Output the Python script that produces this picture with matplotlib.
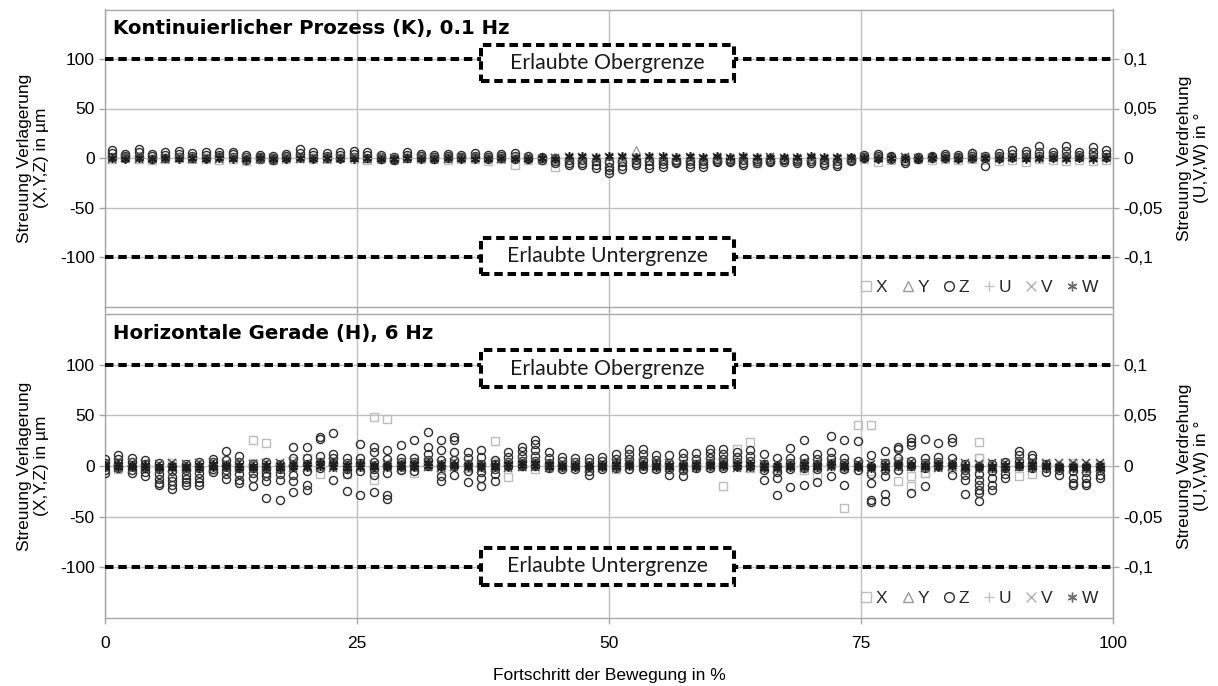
import numpy as np
import matplotlib
matplotlib.use("Agg")
import matplotlib.pyplot as plt
from matplotlib.lines import Line2D
from matplotlib.patches import Rectangle
from matplotlib.ticker import FuncFormatter

plt.rcParams['font.family'] = ['Liberation Sans', 'DejaVu Sans']
plt.rcParams['axes.unicode_minus'] = False

# ---------------- data ----------------
TITLES = ["Kontinuierlicher Prozess (K), 0.1 Hz", "Horizontale Gerade (H), 6 Hz"]
X_TICKS = [0, 25, 50, 75, 100]
Y_TICKS = [-100, -50, 0, 50, 100]
Y2_TICKS = [-0.1, -0.05, 0, 0.05, 0.1]
LIMITS = [100, -100]
LIMIT_LABELS = ["Erlaubte Obergrenze", "Erlaubte Untergrenze"]
SERIES = ["X", "Y", "Z", "U", "V", "W"]
N_POS = 75
pos_K = (np.arange(N_POS) + 0.5) * 100 / N_POS
pos_H = np.arange(N_POS) * 100 / N_POS

# ---- panel K (µm) ----
Z_K = [[8, 5, 1], [4, 2, 0], [9, 6, 1], [4, 2, -1], [6, 3, 0], [7, 4, 1], [5, 2, 0],
       [6, 3, 0], [6, 3, 1], [6, 4, 1], [3, 1, -2], [3, 1, -1], [2, 0, -2], [4, 2, 0],
       [9, 5, 1], [6, 3, 0], [5, 2, 0], [6, 3, 0], [7, 4, 1], [6, 3, 0], [3, 1, -1],
       [1, -1, -2], [6, 3, 0], [4, 2, 0], [3, 1, -1], [4, 2, 0], [3, 1, 0], [5, 2, 0],
       [3, 1, -1], [4, 2, 0], [5, 2, -1], [2, 0, -1], [1, 0, -2], [0, -3, -5],
       [-2, -5, -7], [-2, -5, -7], [-3, -7, -10], [-4, -9, -12, -15], [-4, -8, -11],
       [-2, -5, -7], [-3, -7, -10], [-3, -6, -9], [-2, -4, -5], [-3, -6, -9],
       [-3, -6, -9], [-1, -3, -4], [-1, -3, -4], [-2, -5, -7], [-1, -3, -5],
       [-1, -3, -4], [-1, -2, -4], [-1, -3, -5], [-1, -3, -5], [-2, -5, -7],
       [-3, -6, -8], [0, -2, -3], [3, 1, 0], [4, 2, 0], [2, 1, -1], [0, -3, -5],
       [1, 0, -1], [2, 1, 0], [4, 2, 0], [3, 1, 0], [5, 2, 0], [2, 0, -8], [5, 2, 0],
       [8, 4, 1], [7, 4, 1], [12, 6, 2], [6, 3, 1], [12, 7, 2], [6, 3, 1], [11, 6, 2],
       [8, 4, 1]]
X_K = [-1, 0, -1, -2, -1, 0, -1, -1, -2, -1, -3, -1, -2, -1, 0,
       -1, -1, 0, -1, -2, -1, -2, 0, -1, -1, -2, -1, -1, -3, -1,
       -7, -2, -2, -9, -2, -1, -3, -3, -2, -1, -2, -1, -2, -1, -2,
       -1, -2, -1, -5, -2, -1, -2, -1, -2, -1, -2, -1, -4, -2, -1,
       -1, -2, -1, -2, -1, -2, -3, -2, -4, -1, -2, -3, -2, -3, -2]
Y_K = [1, 2, 1, 0, 1, 2, 1, 1, 2, 1, 0, 1, 1, 2, 1,
       1, 2, 1, 1, 0, 1, 0, 2, 1, 1, 2, 1, 2, 1, 1,
       1, 2, 0, 1, 1, 0, 1, 2, 1, 8, 1, 0, 1, 1, 0,
       1, 0, 1, 0, 1, 1, 0, 1, 0, 1, 1, 2, 1, 0, 1,
       1, 2, 1, 1, 6, 1, 2, 1, 2, 1, 1, 2, 1, 2, 1]
# ---- panel K (°) ----
U_K = [0.001, 0.000, 0.001, 0.000, -0.001, 0.001, 0.000, 0.001, 0.000, 0.000, 0.001, -0.001, 0.000, 0.001, 0.000,
       0.001, 0.000, 0.000, 0.001, 0.000, 0.001, -0.001, 0.000, 0.001, 0.000, 0.001, 0.000, -0.001, 0.000, 0.001,
       0.000, 0.001, 0.000, 0.000, 0.001, 0.000, -0.001, 0.001, 0.000, 0.001, 0.000, 0.000, 0.001, 0.000, -0.001,
       0.000, 0.001, 0.000, 0.001, 0.000, 0.000, 0.001, -0.001, 0.000, 0.001, 0.000, 0.001, 0.000, 0.000, 0.001,
       0.000, -0.001, 0.001, 0.000, 0.001, 0.000, 0.000, 0.001, 0.000, -0.001, 0.001, 0.000, 0.001, 0.000, 0.000]
V_K = [-0.001, 0.000, -0.001, 0.000, -0.001, 0.000, -0.001, 0.000, -0.001, 0.000, 0.000, -0.001, 0.000, 0.000, -0.001,
       0.000, -0.001, 0.000, 0.000, -0.001, 0.000, 0.000, -0.001, 0.000, 0.000, -0.001, 0.000, 0.000, 0.000, -0.001,
       0.000, 0.000, -0.001, 0.000, 0.001, 0.001, 0.000, 0.001, 0.001, 0.000, 0.001, 0.001, 0.000, 0.001, 0.000,
       0.001, 0.000, 0.001, 0.000, 0.001, 0.000, 0.000, 0.001, 0.000, 0.000, 0.000, 0.001, 0.000, 0.000, 0.001,
       0.000, 0.000, 0.001, 0.000, 0.000, 0.001, 0.000, 0.001, 0.000, 0.000, 0.001, 0.000, 0.001, 0.000, 0.001]
W_K = [0.000, -0.001, 0.000, -0.001, 0.000, -0.001, 0.000, -0.001, 0.000, -0.001, -0.001, 0.000, -0.001, -0.001, 0.000,
       -0.001, 0.000, -0.001, -0.001, 0.000, -0.001, -0.001, 0.000, -0.001, -0.001, 0.000, -0.001, -0.001, -0.001, 0.000,
       -0.001, -0.001, 0.000, -0.001, 0.002, 0.002, 0.001, 0.002, 0.002, 0.001, 0.002, 0.002, 0.001, 0.002, 0.001,
       0.002, 0.001, 0.002, 0.001, 0.001, 0.001, 0.001, 0.002, 0.001, 0.001, 0.001, 0.000, -0.001, 0.000, 0.000,
       -0.001, 0.000, 0.000, -0.001, 0.000, 0.000, -0.001, 0.000, -0.001, 0.000, 0.000, -0.001, 0.000, -0.001, 0.000]

# ---- panel H (µm) ----
Z_H = [[7, 3, 0, -4, -7], [11, 7, 3, 0, -2], [8, 4, 0, -4, -7], [6, 2, -2, -6, -10],
       [3, -3, -8, -13, -17, -19], [0, -5, -11, -15, -19, -23], [2, -4, -9, -13, -16, -19],
       [4, -2, -7, -12, -16, -19], [7, 4, 0, -3, -6], [15, 6, 1, -4, -8, -13],
       [10, 4, -2, -8, -14, -17], [2, -2, -7, -12, -20], [4, -2, -7, -10, -15, -32],
       [2, -3, -8, -14, -34], [19, 8, 0, -9, -15, -26], [19, 8, 2, -5, -19, -24],
       [29, 27, 10, 4, -2], [33, 12, 8, 3, -14], [8, 3, -3, -8, -25], [22, 8, 3, -5, -29],
       [19, 14, 4, -3, -9, -26], [16, 7, 0, -7, -29, -33], [21, 8, 4, 0, -4],
       [26, 8, 4, 0, -5], [34, 19, 12, 6, 0], [26, 16, 6, 0, -10, -15],
       [29, 26, 14, 6, 0, -9], [14, 8, 2, -5, -16], [16, 9, 2, -6, -12, -20],
       [6, 2, -3, -8, -15], [14, 9, 4, 0], [19, 15, 10, 5, 0], [26, 22, 16, 10, 5, 0],
       [14, 8, 3, -2], [9, 5, 1, -3], [8, 4, 0, -3], [8, 4, 0, -5, -9], [9, 5, 1, -3],
       [12, 7, 3, -2], [17, 12, 7, 2, -3], [17, 12, 6, 1, -3], [11, 6, 2, -3],
       [11, 3, -3, -9], [13, 8, 2, -4, -10], [13, 7, 2, -2], [17, 13, 8, 3, -2],
       [17, 12, 7, 2, -2], [14, 9, 4, 0], [16, 10, 5, 0], [12, 2, -4, -14],
       [8, 0, -6, -12, -29], [18, 8, 3, -3, -21], [26, 8, 3, -2, -19], [12, 7, 2, -3, -16],
       [30, 14, 8, 2, -10], [26, 8, 3, -3, -19], [25, 5, 0, -4],
       [11, 0, -8, -17, -34, -36], [15, 3, -4, -10, -28, -35], [19, 17, 8, 2, -4],
       [28, 24, 21, 5, 0, -27], [27, 8, 3, -2, -20], [23, 9, 4, 0], [28, 24, 8, 2, -9],
       [2, -4, -9, -14, -28], [0, -8, -14, -19, -24, -27, -35], [2, -5, -12, -19, -24],
       [4, -2, -8, -12], [15, 11, 5, 0], [11, 8, 3, -2], [2, -2, -6], [0, -4, -9],
       [0, -5, -12, -17, -19], [0, -6, -12, -17, -19], [0, -4, -9, -12]]
X_H = [2, -3, 1, -2, 0, 3, -1, 2, -4, 1, -2, 3, -3, 0, 5,
       8, -8, 2, -8, 3, -2, 1, -3, -7, 2, -4, 3, -2, 1, 4,
       -11, 2, -3, 1, -1, 2, -2, 1, -3, 2, 4, -2, 1, -3, 2,
       -1, 3, 6, -2, 1, -3, 2, -4, -9, 3, -2, 1, -5, 2, 5,
       -10, -7, 2, -3, 1, 8, -2, 3, -10, -8, 2, -1, 3, -2, 1]
X_H_OUT_IDX = [11, 12, 20, 20, 21, 29, 46, 47, 48, 55, 56, 57, 59, 60, 61, 65, 65]
X_H_OUT_VAL = [26, 23, 48, -14, 46, 25, -20, 17, 24, -41, 40, 40, -15, -20, -7, 24, 8]
Y_H = [1, 0, 2, 1, 0, 1, -1, 0, 2, 1, 0, 1, 2, 0, 1,
       0, 1, 2, 0, 1, 1, 0, 2, 1, 0, 1, 2, 1, 0, 1,
       2, 0, 1, 1, 0, 2, 1, 0, 1, 2, 0, 1, 1, 0, 2,
       1, 0, 1, 2, 0, 1, 1, 0, 2, 1, 0, 1, 2, 1, 0,
       1, 2, 0, 1, 1, 0, 2, 1, 0, 1, 2, 0, 1, 1, 0]
# ---- panel H (°) ----
U_H = [0.002, 0.001, 0.002, 0.000, 0.001, 0.002, 0.001, 0.000, 0.002, 0.001, 0.002, 0.001, 0.000, 0.002, 0.001,
       0.002, 0.000, 0.001, 0.002, 0.001, 0.000, 0.002, 0.001, 0.002, 0.000, 0.001, 0.002, 0.001, 0.002, 0.000,
       0.001, 0.002, 0.001, 0.000, 0.002, 0.001, 0.002, 0.000, 0.001, 0.002, 0.001, 0.000, 0.002, 0.001, 0.002,
       0.000, 0.001, 0.002, 0.001, 0.000, 0.002, 0.001, 0.002, 0.000, 0.001, 0.002, 0.001, 0.002, 0.000, 0.001,
       0.002, 0.001, 0.000, 0.002, 0.001, 0.002, 0.000, 0.001, 0.002, 0.001, 0.000, 0.002, 0.001, 0.002, 0.001]
V_H_A = [0.003, 0.004, 0.003, 0.003, 0.002, 0.003, 0.002, 0.003, 0.004, 0.003, 0.003, 0.002, 0.003, 0.003, 0.004,
         0.003, 0.004, 0.004, 0.003, 0.003, 0.002, 0.003, 0.003, 0.004, 0.004, 0.003, 0.004, 0.003, 0.002, 0.003,
         0.003, 0.004, 0.004, 0.003, 0.003, 0.003, 0.002, 0.003, 0.003, 0.004, 0.004, 0.003, 0.003, 0.003, 0.003,
         0.004, 0.004, 0.003, 0.003, 0.002, 0.003, 0.003, 0.004, 0.003, 0.004, 0.003, 0.003, 0.002, 0.003, 0.004,
         0.004, 0.003, 0.003, 0.004, 0.003, 0.002, 0.003, 0.003, 0.004, 0.003, 0.003, 0.003, 0.003, 0.003, 0.003]
V_H_B = [-0.002, -0.002, -0.003, -0.002, -0.003, -0.002, -0.003, -0.002, -0.002, -0.003, -0.002, -0.003, -0.002, -0.003, -0.002,
         -0.002, -0.001, -0.002, -0.003, -0.002, -0.003, -0.002, -0.002, -0.002, -0.001, -0.002, -0.001, -0.002, -0.003, -0.002,
         -0.002, -0.001, -0.001, -0.002, -0.002, -0.002, -0.003, -0.002, -0.002, -0.001, -0.001, -0.002, -0.002, -0.002, -0.002,
         -0.001, -0.001, -0.002, -0.002, -0.003, -0.003, -0.002, -0.002, -0.002, -0.001, -0.002, -0.002, -0.003, -0.002, -0.001,
         -0.001, -0.002, -0.002, -0.001, -0.002, -0.003, -0.003, -0.002, -0.001, -0.002, -0.002, -0.002, -0.003, -0.003, -0.002]
W_H_A = [0.001, 0.002, 0.001, 0.001, 0.000, 0.001, 0.000, 0.001, 0.002, 0.001, 0.001, 0.000, 0.001, 0.001, 0.002,
         0.002, 0.003, 0.002, 0.001, 0.002, 0.001, 0.001, 0.002, 0.002, 0.003, 0.002, 0.002, 0.001, 0.001, 0.001,
         0.002, 0.003, 0.003, 0.002, 0.001, 0.001, 0.001, 0.001, 0.002, 0.002, 0.002, 0.001, 0.001, 0.001, 0.002,
         0.002, 0.002, 0.002, 0.002, 0.001, 0.001, 0.001, 0.002, 0.001, 0.003, 0.001, 0.001, 0.000, 0.001, 0.002,
         0.002, 0.001, 0.002, 0.002, 0.000, 0.000, 0.000, 0.001, 0.002, 0.002, 0.001, 0.000, 0.000, 0.000, 0.001]
W_H_B = [-0.001, -0.001, -0.001, -0.002, -0.002, -0.002, -0.002, -0.002, -0.001, -0.001, -0.002, -0.002, -0.002, -0.002, -0.001,
         -0.001, 0.000, -0.001, -0.002, -0.001, -0.001, -0.001, -0.001, -0.001, 0.000, -0.001, 0.000, -0.001, -0.001, -0.001,
         -0.001, 0.000, 0.000, -0.001, -0.001, -0.001, -0.001, -0.001, -0.001, 0.000, 0.000, -0.001, -0.001, -0.001, -0.001,
         0.000, 0.000, -0.001, -0.001, -0.002, -0.002, -0.001, -0.001, -0.001, 0.000, -0.001, -0.001, -0.002, -0.002, 0.000,
         0.000, -0.001, -0.001, 0.000, -0.002, -0.002, -0.002, -0.002, 0.000, -0.001, -0.001, -0.002, -0.002, -0.002, -0.002]

# ---------------- styles ----------------
STY = {
    "X": dict(marker="s", color="#bdbdbd", ms=5.2, mew=1.0),
    "Y": dict(marker="^", color="#9a9a9a", ms=5.2, mew=0.9),
    "Z": dict(marker="o", color="#2e2e2e", ms=5.8, mew=1.0),
    "U": dict(marker="+", color="#c4c4c4", ms=6.0, mew=1.0),
    "V": dict(marker="x", color="#555555", ms=5.2, mew=1.2),
    "W": dict(marker=(6, 2, 0), color="#1e1e1e", ms=6.2, mew=1.1),
}
LEG_COL = {"V": "#b0b0b0", "W": "#6a6a6a"}
GRID = "#bfbfbf"
SPINE = "#a6a6a6"
DASH = (0, (2.1, 1.2))
LW = 2.9


def mk(ax, x, y, key, z=3):
    s = STY[key]
    ax.plot(x, y, ls="none", marker=s["marker"], mfc="none", mec=s["color"],
            ms=s["ms"], mew=s["mew"], zorder=z)


def flat(pos, lists):
    xs, ys = [], []
    for p, vals in zip(pos, lists):
        for v in vals:
            xs.append(p)
            ys.append(v)
    return xs, ys


fig = plt.figure(figsize=(12.18, 6.86), dpi=100)
W_, H_ = 1218.0, 686.0
L, R = 105 / W_, 1113 / W_
ax_top = fig.add_axes([L, 1 - 306.5 / H_, R - L, (306.5 - 9.5) / H_])
ax_bot = fig.add_axes([L, 1 - 618 / H_, R - L, (618 - 314) / H_])

panels = [
    (ax_top, pos_K, Z_K, X_K, Y_K, [U_K], [V_K], [W_K], None),
    (ax_bot, pos_H, Z_H, X_H, Y_H, [U_H], [V_H_A, V_H_B], [W_H_A, W_H_B], (X_H_OUT_IDX, X_H_OUT_VAL)),
]

for k, (ax, pos, Z, X, Y, Us, Vs, Ws, out) in enumerate(panels):
    ax.set_xlim(0, 100)
    ax.set_ylim(-150, 150)
    ax.set_xticks(X_TICKS)
    ax.set_yticks(Y_TICKS)
    ax.set_axisbelow(True)
    ax.grid(True, color=GRID, lw=1.0)
    for sp in ax.spines.values():
        sp.set_color(SPINE)
        sp.set_linewidth(1.0)
    ax.tick_params(colors=SPINE, labelcolor="black", labelsize=12.5, length=4, width=1.0)
    ax.tick_params(axis="x", pad=9)
    if k == 0:
        ax.tick_params(axis="x", labelbottom=False)
    ax.set_ylabel("Streuung Verlagerung\n(X,Y,Z) in µm", fontsize=12.5, labelpad=8,
                  linespacing=1.15)

    # series on the left axis (µm)
    mk(ax, pos, X, "X")
    if out is not None:
        mk(ax, [pos[i] for i in out[0]], out[1], "X")
    mk(ax, pos, Y, "Y")
    zx, zy = flat(pos, Z)
    mk(ax, zx, zy, "Z", z=3.2)

    # limit lines + labelled dashed boxes
    for lim, lab in zip(LIMITS, LIMIT_LABELS):
        ax.axhline(lim, color="black", lw=LW, ls=DASH, zorder=4)
        yc = lim - 4 if lim > 0 else lim + 1
        ax.add_patch(Rectangle((37.3, yc - 18.5), 25.1, 37, facecolor="white",
                               edgecolor="black", lw=LW, ls=DASH, zorder=5))
        ax.text(49.85, yc, lab, ha="center", va="center", fontsize=15.3,
                family=["Lato", "DejaVu Sans"], color="#1a1a1a", zorder=6)

    ax.text(0.008, 0.968, TITLES[k], transform=ax.transAxes, ha="left", va="top",
            fontsize=14.2, fontweight="bold", family=["DejaVu Sans"], zorder=7)

    # right axis (°)
    axr = ax.twinx()
    axr.set_ylim(-0.15, 0.15)
    axr.set_yticks(Y2_TICKS)
    axr.yaxis.set_major_formatter(FuncFormatter(lambda v, p: ("%g" % v).replace(".", ",")))
    for sp in axr.spines.values():
        sp.set_visible(False)
    axr.tick_params(colors=SPINE, labelcolor="black", labelsize=12.5, length=4, width=1.0)
    axr.set_ylabel("Streuung Verdrehung\n(U,V,W) in °", fontsize=12.5, labelpad=10,
                   linespacing=1.15)
    for U in Us:
        mk(axr, pos, U, "U")
    for V in Vs:
        mk(axr, pos, V, "V")
    for Wv in Ws:
        mk(axr, pos, Wv, "W")

    handles = [Line2D([], [], ls="none", marker=STY[s]["marker"], mfc="none",
                      mec=LEG_COL.get(s, STY[s]["color"]), ms=7, mew=1.0) for s in SERIES]
    leg = axr.legend(handles, SERIES, loc="lower right", ncol=6, frameon=False,
                     fontsize=12.5, handlelength=0.8, handletextpad=0.15,
                     columnspacing=0.75, borderaxespad=0.0, bbox_to_anchor=(0.992, 0.015))
    for t in leg.get_texts():
        t.set_color("#262626")

ax_bot.set_xlabel("Fortschritt der Bewegung in %", fontsize=12.5, labelpad=12)

fig.savefig("out.png", dpi=100)
